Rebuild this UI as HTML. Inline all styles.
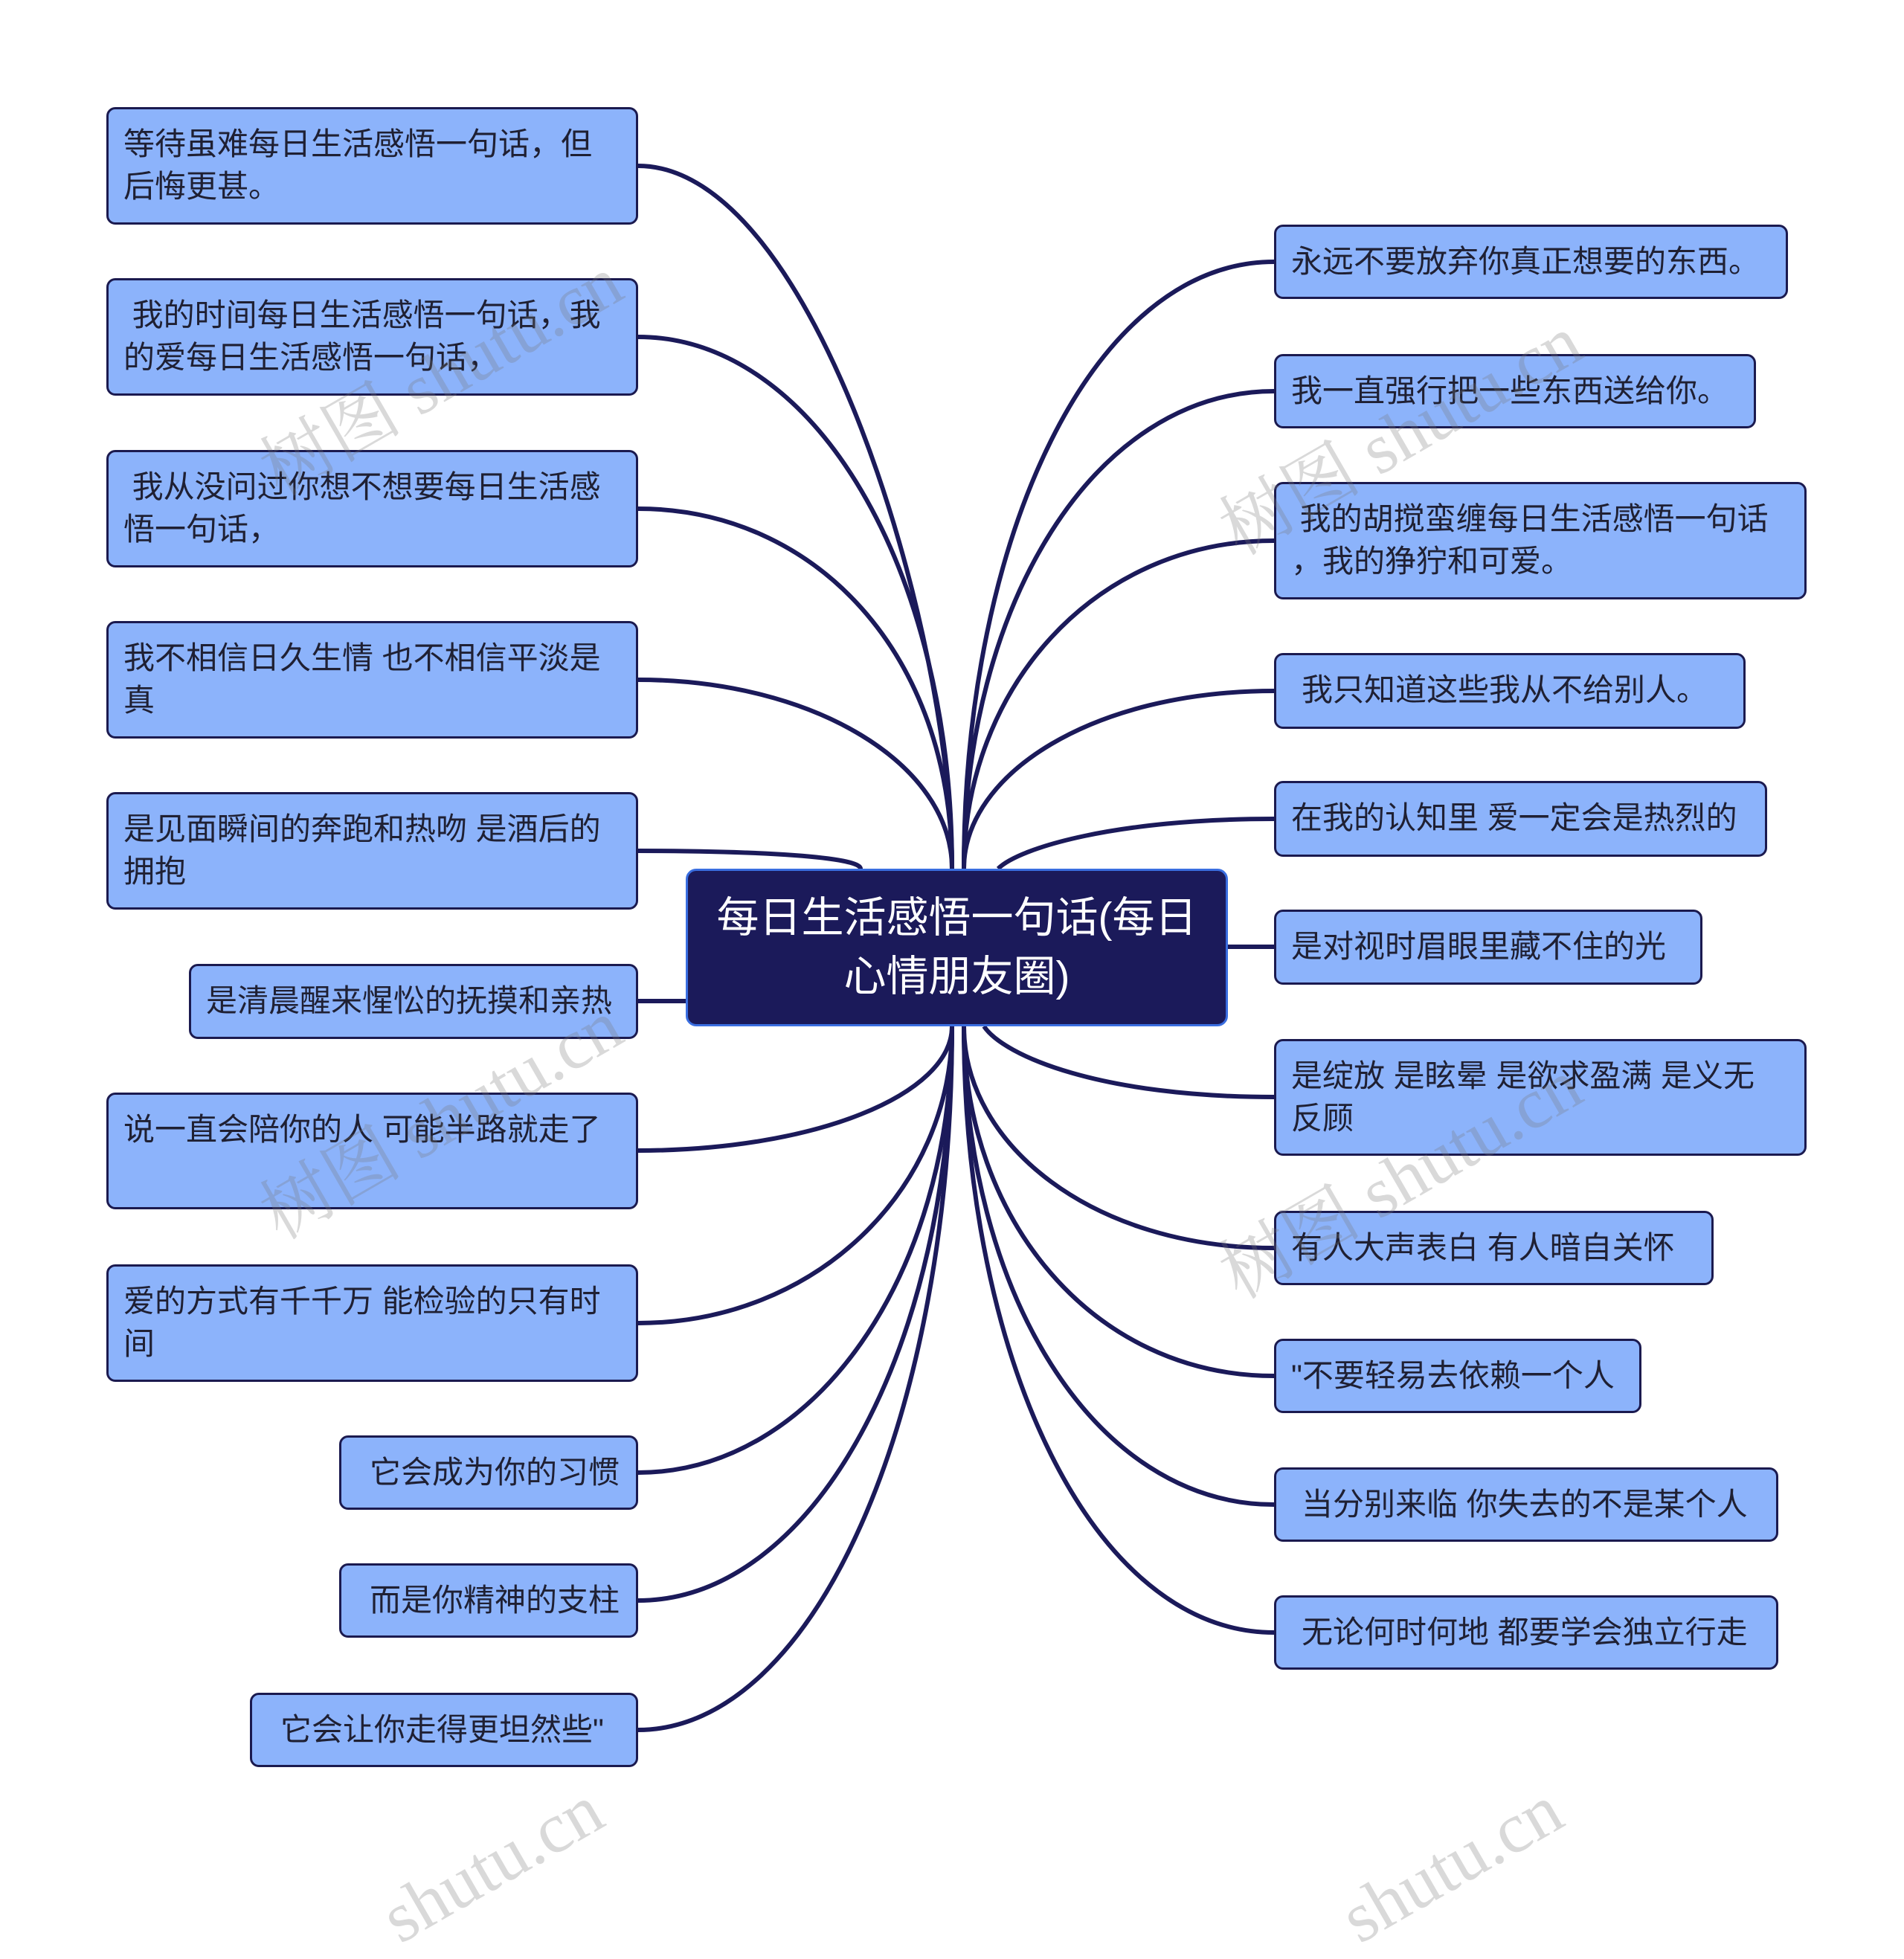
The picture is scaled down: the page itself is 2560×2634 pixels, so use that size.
<!DOCTYPE html>
<html><head><meta charset="utf-8"><style>
body{margin:0;width:2560px;height:2507px;background:#fff;position:relative;overflow:hidden;font-family:"Liberation Sans","Noto Sans CJK SC",sans-serif;}
.b{position:absolute;box-sizing:border-box;background:#8cb3fb;border:3px solid #1b1a4f;border-radius:12px;padding:18px 20px 0 20px;font-size:42px;line-height:57px;color:#1f2033;white-space:nowrap;}
.c{position:absolute;left:922px;top:1168px;width:729px;height:212px;box-sizing:border-box;background:#1b1a5a;border:3px solid #3a6ee0;border-radius:14px;color:#fff;font-size:57px;line-height:79px;text-align:center;padding-top:24px;}
.w{position:absolute;font-family:"Liberation Serif","Noto Serif CJK SC",serif;font-size:96px;color:rgba(120,120,120,0.28);transform:rotate(-30deg);white-space:nowrap;}
svg{position:absolute;left:0;top:0}
</style></head><body>
<svg width="2560" height="2507" fill="none" stroke="#1b1a5a" stroke-width="6">
<path d="M858,223 C1095,223 1280,849 1280,1168"/>
<path d="M858,453 C1095,453 1280,765 1280,1168"/>
<path d="M858,684 C1095,684 1280,878 1280,1168"/>
<path d="M858,914 C1095,914 1280,1028 1280,1168"/>
<path d="M858,1144 C1020,1144 1157,1152 1157,1168"/>
<path d="M858,1346 L922,1346"/>
<path d="M858,1547 C1095,1547 1280,1472 1280,1380"/>
<path d="M858,1779 C1095,1779 1280,1601 1280,1380"/>
<path d="M858,1980 C1095,1980 1280,1715 1280,1380"/>
<path d="M858,2152 C1095,2152 1280,1810 1280,1380"/>
<path d="M858,2326 C1095,2326 1280,1905 1280,1380"/>
<path d="M1713,352 C1470,352 1296,720 1296,1168"/>
<path d="M1713,526 C1470,526 1296,816 1296,1168"/>
<path d="M1713,727 C1470,727 1296,927 1296,1168"/>
<path d="M1713,929 C1470,929 1296,1040 1296,1168"/>
<path d="M1713,1101 C1500,1101 1370,1140 1342,1168"/>
<path d="M1651,1273 L1713,1273"/>
<path d="M1713,1475 C1480,1475 1350,1420 1323,1380"/>
<path d="M1713,1678 C1470,1678 1296,1540 1296,1380"/>
<path d="M1713,1850 C1470,1850 1296,1640 1296,1380"/>
<path d="M1713,2023 C1470,2023 1296,1735 1296,1380"/>
<path d="M1713,2195 C1470,2195 1296,1830 1296,1380"/>
</svg>
<div class="b" style="left:143px;top:144px;width:715px;height:158px">等待虽难每日生活感悟一句话，但<br>后悔更甚。</div>
<div class="b" style="left:143px;top:374px;width:715px;height:158px">&nbsp;我的时间每日生活感悟一句话，我<br>的爱每日生活感悟一句话，</div>
<div class="b" style="left:143px;top:605px;width:715px;height:158px">&nbsp;我从没问过你想不想要每日生活感<br>悟一句话，</div>
<div class="b" style="left:143px;top:835px;width:715px;height:158px">我不相信日久生情 也不相信平淡是<br>真</div>
<div class="b" style="left:143px;top:1065px;width:715px;height:158px">是见面瞬间的奔跑和热吻 是酒后的<br>拥抱</div>
<div class="b" style="left:254px;top:1296px;width:604px;height:101px">是清晨醒来惺忪的抚摸和亲热</div>
<div class="b" style="left:143px;top:1469px;width:715px;height:157px">说一直会陪你的人 可能半路就走了</div>
<div class="b" style="left:143px;top:1700px;width:715px;height:158px">爱的方式有千千万 能检验的只有时<br>间</div>
<div class="b" style="left:456px;top:1930px;width:402px;height:100px;padding-left:38px">它会成为你的习惯</div>
<div class="b" style="left:456px;top:2102px;width:402px;height:100px;padding-left:38px">而是你精神的支柱</div>
<div class="b" style="left:336px;top:2276px;width:522px;height:100px;padding-left:38px">它会让你走得更坦然些"</div>
<div class="b" style="left:1713px;top:302px;width:691px;height:100px">永远不要放弃你真正想要的东西。</div>
<div class="b" style="left:1713px;top:476px;width:648px;height:100px">我一直强行把一些东西送给你。</div>
<div class="b" style="left:1713px;top:648px;width:716px;height:158px">&nbsp;我的胡搅蛮缠每日生活感悟一句话<br>，我的狰狞和可爱。</div>
<div class="b" style="left:1713px;top:878px;width:634px;height:102px;padding-left:34px">我只知道这些我从不给别人。</div>
<div class="b" style="left:1713px;top:1050px;width:663px;height:102px">在我的认知里 爱一定会是热烈的</div>
<div class="b" style="left:1713px;top:1223px;width:576px;height:101px">是对视时眉眼里藏不住的光</div>
<div class="b" style="left:1713px;top:1397px;width:716px;height:157px">是绽放 是眩晕 是欲求盈满 是义无<br>反顾</div>
<div class="b" style="left:1713px;top:1628px;width:591px;height:100px">有人大声表白 有人暗自关怀</div>
<div class="b" style="left:1713px;top:1800px;width:494px;height:100px">"不要轻易去依赖一个人</div>
<div class="b" style="left:1713px;top:1973px;width:678px;height:100px;padding-left:34px">当分别来临 你失去的不是某个人</div>
<div class="b" style="left:1713px;top:2145px;width:678px;height:100px;padding-left:34px">无论何时何地 都要学会独立行走</div>
<div class="c">每日生活感悟一句话(每日<br>心情朋友圈)</div>
<div class="w" style="left:320px;top:430px">树图 shutu.cn</div>
<div class="w" style="left:1610px;top:510px">树图 shutu.cn</div>
<div class="w" style="left:320px;top:1430px">树图 shutu.cn</div>
<div class="w" style="left:1610px;top:1510px">树图 shutu.cn</div>
<div class="w" style="left:500px;top:2450px">shutu.cn</div>
<div class="w" style="left:1790px;top:2450px">shutu.cn</div>
</body></html>
